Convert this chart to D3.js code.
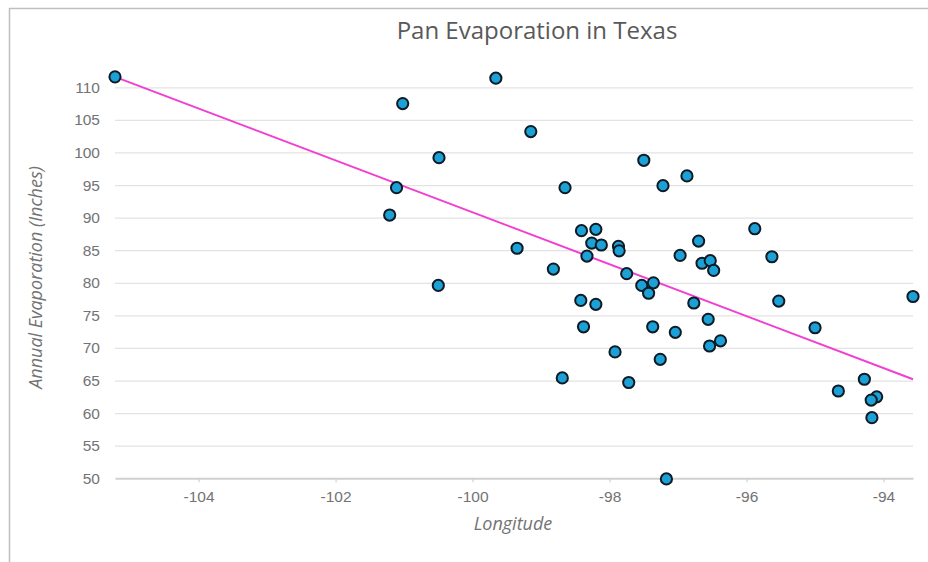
<!DOCTYPE html>
<html>
<head>
<meta charset="utf-8">
<script src="https://cdn.jsdelivr.net/npm/d3@7"></script>
<style>
  html, body { margin: 0; padding: 0; background: #fff; }
  svg { display: block; font-family: "Open Sans", "Noto Sans", sans-serif; }
</style>
</head>
<body>
<svg id="chart" width="928" height="562"></svg>
<script>
// ---- data ----
const longitude = [
  -105.22, -99.66, -101.02, -99.15, -100.49, -97.50, -101.11, -98.65, -96.87, -97.22,
  -101.21, -95.88, -98.41, -98.20, -96.70, -98.26, -98.12, -97.87, -97.86, -99.35,
  -98.33, -96.97, -95.63, -96.65, -96.53, -96.48, -98.82, -97.75, -100.50, -97.53,
  -97.36, -97.43, -98.42, -98.20, -96.77, -95.53, -93.57, -98.38, -97.37, -97.04,
  -96.56, -96.54, -96.38, -95.00, -97.92, -97.26, -98.69, -97.72, -94.66, -94.28,
  -94.10, -94.18, -94.17, -97.17
];
const evaporation = [
  111.6, 111.4, 107.5, 103.2, 99.2, 98.8, 94.6, 94.6, 96.4, 94.9,
  90.4, 88.3, 88.0, 88.2, 86.4, 86.1, 85.8, 85.6, 84.9, 85.3,
  84.1, 84.2, 84.0, 83.0, 83.4, 81.9, 82.1, 81.4, 79.6, 79.6,
  80.0, 78.4, 77.3, 76.7, 76.9, 77.2, 77.9, 73.25, 73.25, 72.4,
  74.4, 70.3, 71.1, 73.1, 69.4, 68.25, 65.4, 64.7, 63.4, 65.2,
  62.5, 62.0, 59.3, 49.9
];
const trendX = [-105.22, -93.57];
const trendY = [111.6, 65.2];
const xTicks = [-104, -102, -100, -98, -96, -94];
const yTicks = [50, 55, 60, 65, 70, 75, 80, 85, 90, 95, 100, 105, 110];
const titleText = "Pan Evaporation in Texas";
const xLabel = "Longitude";
const yLabel = "Annual Evaporation (Inches)";

// ---- layout ----
const svg = d3.select("#chart");
const plotLeft = 115, plotRight = 913, plotTop = 87.3, plotBottom = 478.3;

const x = d3.scaleLinear().domain([-105.22, -93.57]).range([plotLeft, plotRight]);
const y = d3.scaleLinear().domain([50, 110]).range([plotBottom, plotTop]);

// chart frame (top and left border)
svg.append("line").attr("x1", 9).attr("x2", 928).attr("y1", 8.5).attr("y2", 8.5)
  .attr("stroke", "#bfbfbf").attr("stroke-width", 1.5);
svg.append("line").attr("x1", 9.5).attr("x2", 9.5).attr("y1", 8).attr("y2", 562)
  .attr("stroke", "#bfbfbf").attr("stroke-width", 1.5);

// gridlines
const yAxis = d3.axisLeft(y).tickValues(yTicks).tickSize(-(plotRight - plotLeft)).tickPadding(15);
const gy = svg.append("g").attr("transform", `translate(${plotLeft},0)`).call(yAxis);
gy.select(".domain").remove();
gy.selectAll(".tick line").attr("stroke", "#e3e3e3").attr("stroke-width", 1.3)
  .filter(d => d === 50).remove();
gy.selectAll(".tick text").attr("fill", "#737373").attr("font-size", 15.5);

// x axis
const xAxis = d3.axisBottom(x).tickValues(xTicks).tickSize(4).tickPadding(9).tickSizeOuter(0);
const gx = svg.append("g").attr("transform", `translate(0,${plotBottom})`).call(xAxis);
gx.select(".domain").attr("stroke", "#d0d0d0").attr("stroke-width", 2);
gx.selectAll(".tick line").attr("stroke", "#d0d0d0").attr("stroke-width", 1.2);
gx.selectAll(".tick text").attr("fill", "#737373").attr("font-size", 15.5)
  .text(d => d3.format("d")(d).replace("\u2212", "-"));

// trend line
const line = d3.line().x(d => x(d[0])).y(d => y(d[1]));
svg.append("path").datum(d3.zip(trendX, trendY)).attr("d", line)
  .attr("fill", "none").attr("stroke", "#f23fd0").attr("stroke-width", 2);

// points
svg.append("g").selectAll("circle").data(d3.zip(longitude, evaporation)).join("circle")
  .attr("cx", d => x(d[0])).attr("cy", d => y(d[1])).attr("r", 5.6)
  .attr("fill", "#1ba1d6").attr("stroke", "#0f1a24").attr("stroke-width", 2);

// title and axis titles
svg.append("text").attr("x", 537).attr("y", 39).attr("text-anchor", "middle")
  .attr("fill", "#595959").attr("font-size", 24).text(titleText);
svg.append("text").attr("x", 513).attr("y", 530).attr("text-anchor", "middle")
  .attr("fill", "#737373").attr("font-size", 18).attr("font-style", "italic").text(xLabel);
svg.append("text").attr("transform", "translate(42,277.5) rotate(-90)").attr("text-anchor", "middle")
  .attr("fill", "#737373").attr("font-size", 18).attr("font-style", "italic").text(yLabel);
</script>
</body>
</html>
